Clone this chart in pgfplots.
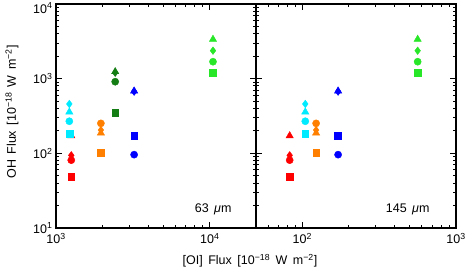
\documentclass[border=0pt]{standalone}
\usepackage{fontspec}
\setmainfont{Liberation Sans}
\usepackage{pgfplots}
\pgfplotsset{compat=1.18}
\usepackage{pgfplotstable}

\definecolor{cred}{RGB}{255,0,0}
\definecolor{ccyan}{RGB}{0,235,255}
\definecolor{corange}{RGB}{255,128,0}
\definecolor{cdkgreen}{RGB}{20,125,20}
\definecolor{cblue}{RGB}{0,0,255}
\definecolor{clgreen}{RGB}{40,230,40}

% one row per group: x at 63 um, x at 145 um, OH fluxes for four lines
\pgfplotstableread{
x63   x145  tr    di    ci    sq
1257  82.8  172   94    81    48.7
}\tred
\pgfplotstableread{
x63   x145  tr    di    ci    sq
1221  104.6 358   458   269   185
}\tcyan
\pgfplotstableread{
x63   x145  tr    di    ci    sq
1959  123   187   205   252   102
}\torange
\pgfplotstableread{
x63   tr    di    ci    sq
2427  1240  1200  910   350
}\tdkgreen
\pgfplotstableread{
x63   x145  tr    di    ci    sq
3222  171   684   670   96    171
}\tblue
\pgfplotstableread{
x63   x145  tr    di    ci    sq
10500 563   3366  2370  1687  1202
}\tlgreen

\newcommand{\grp}[3]{%
  \addplot[only marks, mark=square*, mark size=3.4pt, color=#1] table[x=#3,y=sq]{#2};
  \addplot[only marks, mark=*, mark size=3.6pt, color=#1] table[x=#3,y=ci]{#2};
  \addplot[only marks, mark=diamond*, mark size=3.8pt, color=#1] table[x=#3,y=di]{#2};
  \addplot[only marks, mark=triangle*, mark size=4.2pt, color=#1] table[x=#3,y=tr]{#2};
}
\newcommand{\fs}{\fontsize{12.5}{12.5}\selectfont}
\newcommand{\fsw}{\fontsize{12.5}{12.5}\selectfont\spaceskip=5.5pt}

\begin{document}
\begin{tikzpicture}
\useasboundingbox (-56pt,-44pt) rectangle (412pt,228pt);
\begin{axis}[
  xmode=log, ymode=log, scale only axis,
  width=200pt, height=224pt,
  ymin=10, ymax=10000,
  axis line style={line width=1.2pt},
  every tick/.style={black, line width=0.9pt},
  major tick length=6pt, minor tick length=3pt,
  tick align=inside,
  ytick={10,100,1000},
  extra y ticks={10000},
  extra y tick labels={10\textsuperscript{4}},
  extra y tick style={yticklabel style={yshift=-4pt}},
  minor ytick={20,30,40,50,60,70,80,90,200,300,400,500,600,700,800,900,2000,3000,4000,5000,6000,7000,8000,9000},
  ticklabel style={font=\fs},
  xticklabel style={yshift=-2pt},
  anchor=south west, at={(0pt,0pt)},
  xmin=1000, xmax=20000,
  xtick={1000,10000},
  xticklabels={10\textsuperscript{3},10\textsuperscript{4}},
  minor xtick={2000,3000,4000,5000,6000,7000,8000,9000},
  yticklabels={10\textsuperscript{1},10\textsuperscript{2},10\textsuperscript{3}},
]
\grp{cred}{\tred}{x63}
\grp{ccyan}{\tcyan}{x63}
\grp{corange}{\torange}{x63}
\grp{cdkgreen}{\tdkgreen}{x63}
\grp{cblue}{\tblue}{x63}
\grp{clgreen}{\tlgreen}{x63}
\end{axis}
\begin{axis}[
  xmode=log, ymode=log, scale only axis,
  width=200pt, height=224pt,
  ymin=10, ymax=10000,
  axis line style={line width=1.2pt},
  every tick/.style={black, line width=0.9pt},
  major tick length=6pt, minor tick length=3pt,
  tick align=inside,
  ytick={10,100,1000,10000},
  minor ytick={20,30,40,50,60,70,80,90,200,300,400,500,600,700,800,900,2000,3000,4000,5000,6000,7000,8000,9000},
  ticklabel style={font=\fs},
  xticklabel style={yshift=-2pt},
  anchor=south west, at={(200pt,0pt)},
  xmin=50, xmax=1000,
  xtick={100,1000},
  xticklabels={10\textsuperscript{2},10\textsuperscript{3}},
  minor xtick={60,70,80,90,200,300,400,500,600,700,800,900},
  yticklabels={},
]
\grp{cred}{\tred}{x145}
\grp{ccyan}{\tcyan}{x145}
\grp{corange}{\torange}{x145}
\grp{cblue}{\tblue}{x145}
\grp{clgreen}{\tlgreen}{x145}
\end{axis}
\node[font=\fsw, anchor=base east] at (179pt,15pt) {63 \textit{μ}m};
\node[font=\fsw, anchor=base east] at (377pt,15pt) {145 \textit{μ}m};
\node[font=\fsw, rotate=90] at (-44pt,116pt) {OH Flux [10\textsuperscript{−18} W m\textsuperscript{−2}]};
\node[font=\fsw] at (194pt,-33pt) {[OI] Flux [10\textsuperscript{−18} W m\textsuperscript{−2}]};
\end{tikzpicture}
\end{document}
